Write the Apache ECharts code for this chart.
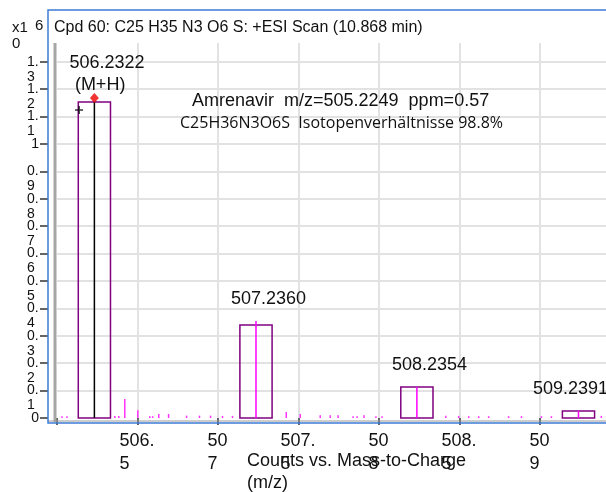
<!DOCTYPE html>
<html><head><meta charset="utf-8">
<script src="https://cdn.jsdelivr.net/npm/echarts@6/dist/echarts.min.js"></script>
<style>html,body{margin:0;padding:0;background:#fff}#c{width:606px;height:492px}</style>
</head><body><div id="c"></div>
<script>
// ---- data (counts in units of 10^6) ----
const titleText = 'Cpd 60: C25 H35 N3 O6 S: +ESI Scan (10.868 min)';
const compoundLine = 'Amrenavir  m/z=505.2249  ppm=0.57';
const formulaLine = 'C25H36N3O6S  Isotopenverhältnisse 98.8%';
const xAxisTitle = 'Counts vs. Mass-to-Charge\n(m/z)';
const xTickLabels = {506.5:['506.','5'], 507:['50','7'], 507.5:['507.','5'], 508:['50','8'], 508.5:['508.','5'], 509:['50','9']};

const peakMz = [506.2322, 507.2360, 508.2354, 509.2391];
const peakCounts = [1.153, 0.354, 0.112, 0.026];
const isoBoxCounts = [1.153, 0.339, 0.113, 0.026];
const peakLabels = ['506.2322', '507.2360', '508.2354', '509.2391'];
const peakNotes = ['(M+H)', '', '', ''];

const noiseMz = [506.031, 506.062, 506.359, 506.384, 506.421, 506.502, 506.576, 506.594, 506.632, 506.693,
  506.805, 506.885, 506.954, 507.028, 507.090, 507.424, 507.511, 507.635, 507.697, 507.746, 507.839, 507.864,
  507.907, 507.981, 508.019, 508.415, 508.495, 508.557, 508.619, 508.681, 508.805, 508.885, 509.009, 509.071, 509.381];
const noiseCounts = [0.003, 0.003, 0.004, 0.004, 0.066, 0.025, 0.003, 0.003, 0.011, 0.011,
  0.005, 0.005, 0.005, 0.004, 0.004, 0.018, 0.011, 0.006, 0.006, 0.006, 0.003, 0.003,
  0.006, 0.003, 0.003, 0.005, 0.004, 0.003, 0.003, 0.003, 0.003, 0.003, 0.003, 0.003, 0.004];

const markerMz = [506.137];
const markerCounts = [1.124];

// ---- chart ----
const FONT = "'Liberation Sans', Arial, sans-serif";
const BOX_HALF = 0.1;
const Y_MAX = 1.3686;
const measureCtx = document.createElement('canvas').getContext('2d');
measureCtx.font = '18px ' + FONT;

const chart = echarts.init(document.getElementById('c'), null, {renderer: 'canvas'});

const yTick = {show: true, length: 8, lineStyle: {color: '#333', width: 1.5}};

const option = {
  animation: false,
  backgroundColor: '#fff',
  grid: {left: 57, right: 0, top: 43, bottom: 74, containLabel: false},
  xAxis: {
    type: 'value', min: 506, max: 509.41, interval: 0.5, offset: 5,
    axisLine: {show: false},
    axisTick: {show: true, length: 7, lineStyle: {color: '#333', width: 1.5}},
    splitLine: {show: true, showMinLine: false, showMaxLine: false, lineStyle: {color: '#e2e2e2', width: 2}},
    axisLabel: {
      showMinLabel: true, showMaxLabel: false, margin: 7,
      formatter: v => {
        const key = Math.round(v * 10) / 10;
        const t = xTickLabels[key];
        if (!t) return '';
        const s = t[0].length > 2 ? 'w' : 'n';
        return '{' + s + '|' + t[0] + '}\n{' + s + '|' + t[1] + '}';
      },
      rich: {
        w: {width: 36, align: 'left', fontSize: 18, lineHeight: 23, fontFamily: FONT, color: '#111'},
        n: {width: 21, align: 'left', fontSize: 18, lineHeight: 23, fontFamily: FONT, color: '#111'}
      }
    }
  },
  yAxis: [
    {
      // carries the grid lines, ticks and the "0" label
      type: 'value', min: 0, max: Y_MAX, interval: 0.1, offset: 9, position: 'left',
      axisLine: {show: false},
      axisTick: yTick,
      splitLine: {show: true, showMinLine: false, showMaxLine: false, lineStyle: {color: '#e2e2e2', width: 2}},
      axisLabel: {
        showMinLabel: true, showMaxLabel: false, margin: 9, fontSize: 14, fontFamily: FONT, color: '#111',
        formatter: v => (Math.round(v * 10) / 10 === 0 ? '0' : '')
      }
    },
    {
      // carries the other tick labels (two-line, as in the original)
      type: 'value', min: 0, max: Y_MAX, interval: 0.1, offset: 9, position: 'left',
      axisLine: {show: false},
      axisTick: yTick,
      splitLine: {show: false},
      axisLabel: {
        showMinLabel: false, showMaxLabel: false, margin: 9, fontSize: 14, fontFamily: FONT, color: '#111',
        formatter: v => {
          const r = Math.round(v * 10) / 10;
          if (r === 0) return '';
          if (Number.isInteger(r)) return String(r);
          const parts = r.toFixed(1).split('.');
          return '{a| }\n{a|' + parts[0] + '.}\n{a|' + parts[1] + '}';
        },
        rich: {a: {width: 12, align: 'left', fontSize: 14, lineHeight: 15, fontFamily: FONT, color: '#111'}}
      }
    }
  ],
  series: [
    {
      type: 'custom', name: 'noise', z: 3,
      data: noiseMz.map((m, i) => [m, noiseCounts[i]]),
      renderItem: (params, api) => {
        const b = api.coord([api.value(0), 0]);
        const t = api.coord([api.value(0), api.value(1)]);
        return {type: 'line', shape: {x1: b[0], y1: b[1], x2: t[0], y2: t[1] - 1}, style: {stroke: '#ff33ff', lineWidth: 1.5}};
      }
    },
    {
      type: 'custom', name: 'isotope boxes', z: 4,
      data: peakMz.map((m, i) => [m, isoBoxCounts[i]]),
      renderItem: (params, api) => {
        const tl = api.coord([api.value(0) - BOX_HALF, api.value(1)]);
        const br = api.coord([api.value(0) + BOX_HALF, 0]);
        return {type: 'rect', shape: {x: tl[0], y: tl[1], width: br[0] - tl[0], height: br[1] - tl[1]},
          style: {fill: 'none', stroke: '#800080', lineWidth: 1.5}};
      }
    },
    {
      type: 'custom', name: 'peaks', z: 5,
      data: peakMz.map((m, i) => [m, peakCounts[i]]),
      renderItem: (params, api) => {
        const b = api.coord([api.value(0), 0]);
        const t = api.coord([api.value(0), api.value(1)]);
        return {type: 'line', shape: {x1: b[0], y1: b[1], x2: t[0], y2: t[1]},
          style: {stroke: params.dataIndex === 0 ? '#000' : '#ff00ff', lineWidth: 1.5}};
      }
    },
    {
      type: 'custom', name: 'peak labels', z: 6,
      data: peakMz.map((m, i) => [m, Math.max(peakCounts[i], isoBoxCounts[i])]),
      renderItem: (params, api) => {
        const i = params.dataIndex;
        const p = api.coord([api.value(0), api.value(1)]);
        const txt = peakLabels[i];
        const note = peakNotes[i];
        const w = measureCtx.measureText(txt).width;
        let x = p[0] - 25;
        if (x + w > 608) x = 608 - w;
        const children = [];
        const cy = p[1] - 22 - (note ? 17 : 0);
        children.push({type: 'text', style: {text: txt, x: x, y: cy, fill: '#111', font: '18px ' + FONT, verticalAlign: 'middle', align: 'left'}});
        if (note) {
          children.push({type: 'text', style: {text: note, x: p[0] - 19.5, y: p[1] - 17, fill: '#111', font: '18px ' + FONT, verticalAlign: 'middle', align: 'left'}});
        }
        return {type: 'group', children: children};
      }
    },
    {
      type: 'scatter', name: 'apex', z: 7,
      data: [[peakMz[0], peakCounts[0]]],
      symbol: 'diamond', symbolSize: [9, 10], symbolOffset: [0, -4],
      itemStyle: {color: '#ee0000'}
    },
    {
      type: 'scatter', name: 'marker', z: 7,
      data: markerMz.map((m, i) => [m, markerCounts[i]]),
      symbol: 'path://M4,0h2v4h4v2h-4v4h-2v-4h-4v-2h4z', symbolSize: 8,
      itemStyle: {color: '#000'}
    }
  ],
  graphic: [
    {type: 'rect', z: 10, shape: {x: 48, y: 10, width: 562, height: 413}, style: {fill: 'none', stroke: '#3d7bd6', lineWidth: 1.5}},
    {type: 'line', z: 9, shape: {x1: 55, y1: 43, x2: 55, y2: 422}, style: {stroke: '#a6a6a6', lineWidth: 3}},
    {type: 'line', z: 9, shape: {x1: 48, y1: 421, x2: 606, y2: 421}, style: {stroke: '#9a9a9a', lineWidth: 1}},
    {type: 'text', z: 10, style: {text: 'x1', x: 12, y: 28, font: '15px ' + FONT, fill: '#111', verticalAlign: 'middle'}},
    {type: 'text', z: 10, style: {text: '6', x: 35, y: 26, font: '15px ' + FONT, fill: '#111', verticalAlign: 'middle'}},
    {type: 'text', z: 10, style: {text: '0', x: 12, y: 44, font: '15px ' + FONT, fill: '#111', verticalAlign: 'middle'}},
    {type: 'text', z: 10, style: {text: titleText, x: 54, y: 28, font: '16px ' + FONT, fill: '#111', verticalAlign: 'middle'}},
    {type: 'text', z: 10, style: {text: compoundLine, x: 192, y: 101, font: '18px ' + FONT, fill: '#111', verticalAlign: 'middle'}},
    {type: 'text', z: 10, style: {text: formulaLine, x: 180, y: 123, font: '16px "Open Sans", Lato, sans-serif', fill: '#111', verticalAlign: 'middle'}},
    {type: 'text', z: 10, style: {text: xAxisTitle, x: 247, y: 450, font: '18px ' + FONT, lineHeight: 22, fill: '#111', verticalAlign: 'top'}}
  ]
};
chart.setOption(option);
</script>
</body></html>
